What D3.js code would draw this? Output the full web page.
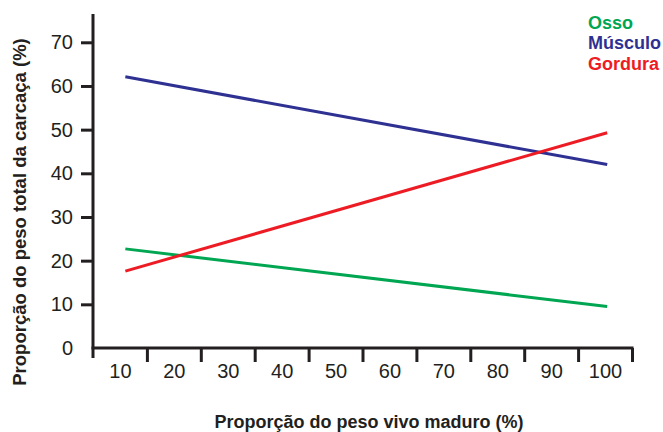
<!DOCTYPE html>
<html><head><meta charset="utf-8">
<script src="https://cdn.jsdelivr.net/npm/d3@7"></script>
<style>
body{margin:0;background:#fff;}
svg{display:block;font-family:"Liberation Sans",Arial,sans-serif;}
</style></head>
<body><svg id="c" width="663" height="432"></svg>
<script>
const xCategories = [10,20,30,40,50,60,70,80,90,100];
const yTicks = [0,10,20,30,40,50,60,70];
const seriesNames = ["Osso","Músculo","Gordura"];
const seriesColors = ["#00a651","#2e3192","#ed1c24"];
const lineX = [11, 100.4];
const ossoValues = [22.7, 9.5];
const musculoValues = [62.1, 42.0];
const gorduraValues = [17.6, 49.3];
const xTitle = "Proporção do peso vivo maduro (%)";
const yTitle = "Proporção do peso total da carcaça (%)";

const ink = "#231f20";
const svg = d3.select("#c");
const x = d3.scaleLinear().domain([5,105]).range([93,632]);
const y = d3.scaleLinear().domain([0,70]).range([348,42.3]);

const series = [ossoValues, musculoValues, gorduraValues].map((v,i)=>({
  name: seriesNames[i], color: seriesColors[i],
  pts: lineX.map((xx,j)=>({x:xx, y:v[j]}))
}));

// Y axis
const yAxis = d3.axisLeft(y).tickValues(yTicks).tickSize(12).tickPadding(8);
const gy = svg.append("g").attr("transform",`translate(${x(5)},0)`).call(yAxis);
gy.select(".domain").remove();
gy.selectAll(".tick line").attr("stroke",ink).attr("stroke-width",3)
  .filter(d=>d===0).remove();
gy.selectAll(".tick text").attr("fill",ink).style("font-size","20px");
svg.append("line").attr("x1",x(5)).attr("x2",x(5)).attr("y1",14).attr("y2",358)
  .attr("stroke",ink).attr("stroke-width",3);

// X axis: boundary ticks + centered labels
const boundaries = xCategories.map(d=>d+5);
const gxT = svg.append("g").attr("transform",`translate(0,${y(0)})`)
  .call(d3.axisBottom(x).tickValues(boundaries).tickSize(14).tickFormat(""));
gxT.select(".domain").remove();
gxT.selectAll(".tick line").attr("stroke",ink).attr("stroke-width",3);
const gxL = svg.append("g").attr("transform",`translate(0,${y(0)})`)
  .call(d3.axisBottom(x).tickValues(xCategories).tickSize(0).tickPadding(16));
gxL.select(".domain").remove();
gxL.selectAll(".tick text").attr("fill",ink).style("font-size","20px");
svg.append("line").attr("x1",x(5)-1.5).attr("x2",x(105)+1.5).attr("y1",y(0)).attr("y2",y(0))
  .attr("stroke",ink).attr("stroke-width",3);

// Lines
const line = d3.line().x(d=>x(d.x)).y(d=>y(d.y));
svg.selectAll("path.s").data(series).join("path").attr("class","s")
  .attr("d",d=>line(d.pts)).attr("fill","none")
  .attr("stroke",d=>d.color).attr("stroke-width",3);

// Legend
svg.selectAll("text.leg").data(series).join("text").attr("class","leg")
  .attr("x",588).attr("y",(d,i)=>28.5+i*20.5)
  .attr("fill",d=>d.color).style("font-size","18px").style("font-weight","bold")
  .text(d=>d.name);

// Titles
svg.append("text").attr("x",369).attr("y",428).attr("text-anchor","middle")
  .attr("fill",ink).style("font-size","18px").style("font-weight","bold").text(xTitle);
svg.append("text").attr("transform","translate(26,212) rotate(-90)").attr("text-anchor","middle")
  .attr("fill",ink).style("font-size","18.5px").style("font-weight","bold").text(yTitle);
</script></body></html>
